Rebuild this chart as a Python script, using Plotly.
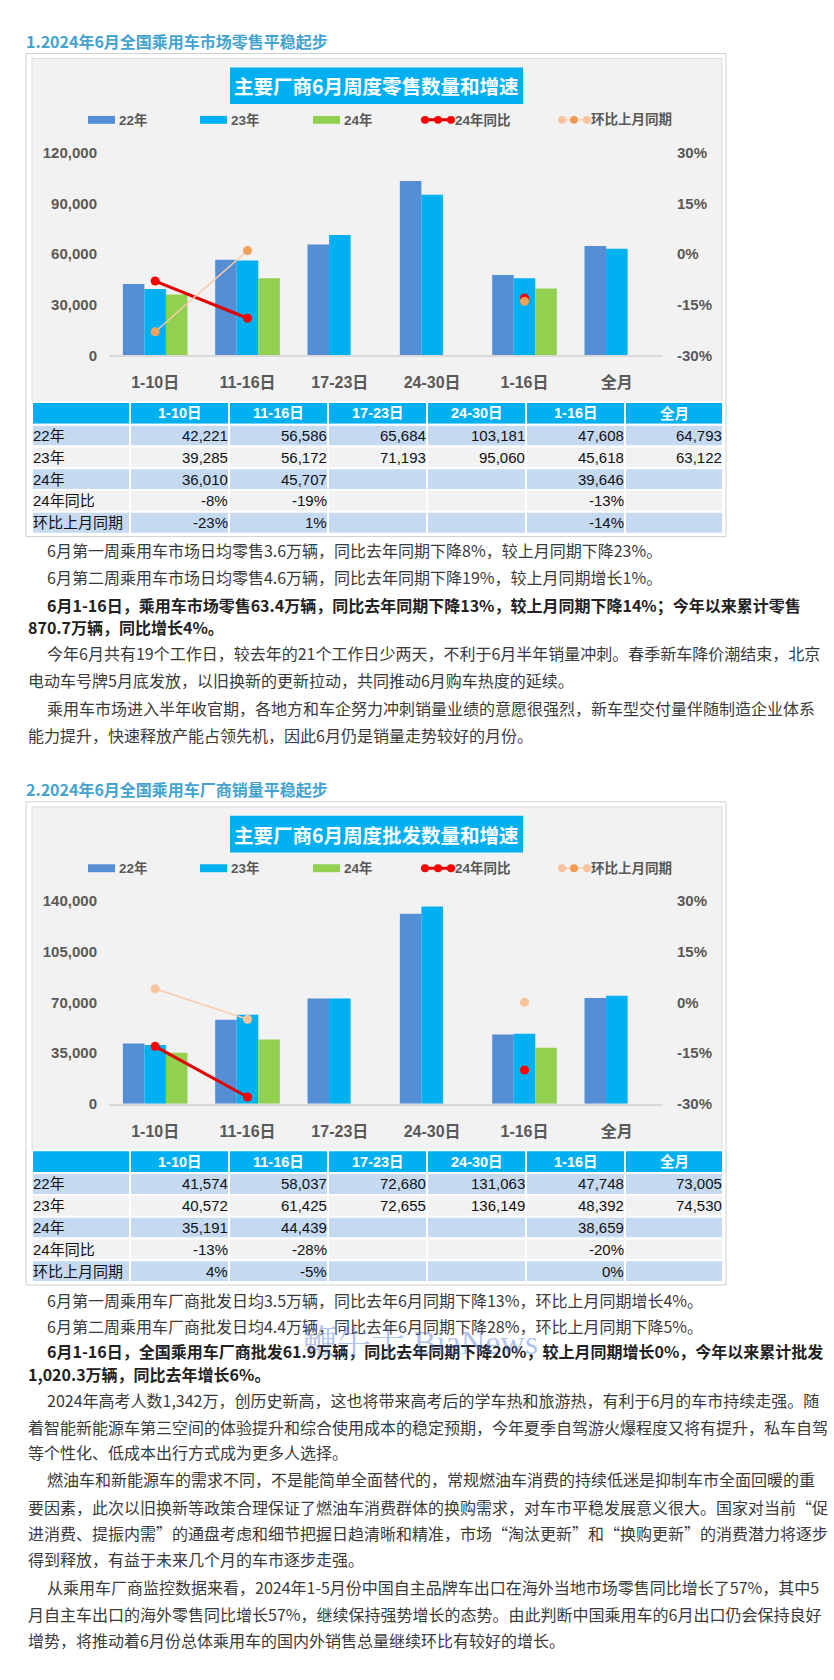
import plotly.graph_objects as go

W, H = 834, 1680

# ---------------- data ----------------
categories = ["1-10日", "11-16日", "17-23日", "24-30日", "1-16日", "全月"]
series_names = ["22年", "23年", "24年"]
rate_names = ["24年同比", "环比上月同期"]
row_labels = ["22年", "23年", "24年", "24年同比", "环比上月同期"]

retail_22 = [42221, 56586, 65684, 103181, 47608, 64793]
retail_23 = [39285, 56172, 71193, 95060, 45618, 63122]
retail_24 = [36010, 45707, None, None, 39646, None]
retail_yoy = [-0.08, -0.19, None, None, -0.13, None]
retail_mom = [-0.23, 0.01, None, None, -0.14, None]

whole_22 = [41574, 58037, 72680, 131063, 47748, 73005]
whole_23 = [40572, 61425, 72655, 136149, 48392, 74530]
whole_24 = [35191, 44439, None, None, 38659, None]
whole_yoy = [-0.13, -0.28, None, None, -0.20, None]
whole_mom = [0.04, -0.05, None, None, 0.00, None]

retail_left_ticks = [0, 30000, 60000, 90000, 120000]
whole_left_ticks = [0, 35000, 70000, 105000, 140000]
right_ticks = [-0.30, -0.15, 0.0, 0.15, 0.30]

heading1 = "1.2024年6月全国乘用车市场零售平稳起步"
heading2 = "2.2024年6月全国乘用车厂商销量平稳起步"
title1 = "主要厂商6月周度零售数量和增速"
title2 = "主要厂商6月周度批发数量和增速"
watermark = "鞭牛士 BiaNews"

text1 = [
    ("6月第一周乘用车市场日均零售3.6万辆，同比去年同期下降8%，较上月同期下降23%。", True, False),
    ("6月第二周乘用车市场日均零售4.6万辆，同比去年同期下降19%，较上月同期增长1%。", True, False),
    ("6月1-16日，乘用车市场零售63.4万辆，同比去年同期下降13%，较上月同期下降14%；今年以来累计零售", True, True),
    ("870.7万辆，同比增长4%。", False, True),
    ("今年6月共有19个工作日，较去年的21个工作日少两天，不利于6月半年销量冲刺。春季新车降价潮结束，北京", True, False),
    ("电动车号牌5月底发放，以旧换新的更新拉动，共同推动6月购车热度的延续。", False, False),
    ("乘用车市场进入半年收官期，各地方和车企努力冲刺销量业绩的意愿很强烈，新车型交付量伴随制造企业体系", True, False),
    ("能力提升，快速释放产能占领先机，因此6月仍是销量走势较好的月份。", False, False),
]
text1_y = [547, 574, 602, 624, 651, 678, 706, 733]

text2 = [
    ("6月第一周乘用车厂商批发日均3.5万辆，同比去年6月同期下降13%，环比上月同期增长4%。", True, False),
    ("6月第二周乘用车厂商批发日均4.4万辆，同比去年6月同期下降28%，环比上月同期下降5%。", True, False),
    ("6月1-16日，全国乘用车厂商批发61.9万辆，同比去年同期下降20%，较上月同期增长0%，今年以来累计批发", True, True),
    ("1,020.3万辆，同比去年增长6%。", False, True),
    ("2024年高考人数1,342万，创历史新高，这也将带来高考后的学车热和旅游热，有利于6月的车市持续走强。随", True, False),
    ("着智能新能源车第三空间的体验提升和综合使用成本的稳定预期，今年夏季自驾游火爆程度又将有提升，私车自驾", False, False),
    ("等个性化、低成本出行方式成为更多人选择。", False, False),
    ("燃油车和新能源车的需求不同，不是能简单全面替代的，常规燃油车消费的持续低迷是抑制车市全面回暖的重", True, False),
    ("要因素，此次以旧换新等政策合理保证了燃油车消费群体的换购需求，对车市平稳发展意义很大。国家对当前“促", False, False),
    ("进消费、提振内需”的通盘考虑和细节把握日趋清晰和精准，市场“淘汰更新”和“换购更新”的消费潜力将逐步", False, False),
    ("得到释放，有益于未来几个月的车市逐步走强。", False, False),
    ("从乘用车厂商监控数据来看，2024年1-5月份中国自主品牌车出口在海外当地市场零售同比增长了57%，其中5", True, False),
    ("月自主车出口的海外零售同比增长57%，继续保持强势增长的态势。由此判断中国乘用车的6月出口仍会保持良好", False, False),
    ("增势，将推动着6月份总体乘用车的国内外销售总量继续环比有较好的增长。", False, False),
]
text2_y = [1304, 1330, 1356, 1379, 1405, 1432, 1458, 1485, 1513, 1540, 1566, 1594, 1621, 1648]

# ---------------- styles ----------------
C22, C23, C24 = "#558ED5", "#00B0F0", "#92D050"
RED_LINE, RED_MK = "#E00000", "#FF0000"
ORG_LINE = "#F8CBAD"
CJK = "Noto Sans CJK SC"
LAT = "Liberation Sans, Arial, Noto Sans CJK SC"
AXIS_GREY = "#595959"
COL_EDGES = [32, 130, 229, 328, 427, 526, 625, 723]
ROW_EDGES = [397, 420, 442, 464, 486, 508, 530]
ROW_FILL = ["#C5D9F1", "#F2F2F2", "#C5D9F1", "#F2F2F2", "#C5D9F1"]


def fx(x):
    return x / W


def fy(y):
    return 1 - y / H


def fmt_num(v):
    return "" if v is None else f"{v:,}"


def fmt_pct(v):
    return "" if v is None else f"{round(v * 100):d}%"


fig = go.Figure()
shapes = []
annotations = []


def rect(x0, y0, x1, y1, fill, line_color=None, line_width=0, layer="below"):
    shapes.append(dict(type="rect", xref="paper", yref="paper", x0=fx(x0), x1=fx(x1),
                       y0=fy(y1), y1=fy(y0), fillcolor=fill, layer=layer,
                       line=dict(color=line_color or fill, width=line_width)))


def label(text, x, y, size, color, anchor="left", bold=False, family=CJK):
    annotations.append(dict(text=text, x=fx(x), y=fy(y), xref="paper", yref="paper",
                            showarrow=False, xanchor=anchor, yanchor="middle",
                            font=dict(family=family, size=size, color=color,
                                      weight="bold" if bold else "normal")))


def add_chart(off, n, heading, title, v22, v23, v24, yoy, mom, mom_marker):
    xa = "x" if n == 1 else "x2"
    yl = "y" if n == 1 else "y3"
    yr = "y2" if n == 1 else "y4"

    # frames
    rect(26, off + 45, 726, off + 533, "white", "#D0D0D0", 1)
    rect(32, off + 50, 722, off + 529, "#F2F2F2", "#DCDCDC", 1)
    # title box
    rect(230, off + 59, 523, off + 96, "#00B0F0")
    label(title, 376.5, off + 77.5, 19.5, "white", "center", True)
    # heading
    label(heading, 24, off + 32, 16, "#44A3CF", "left", True)

    # legend key
    ly = off + 112
    for (sx, col, lab) in [(88, C22, series_names[0]), (200, C23, series_names[1]), (313, C24, series_names[2])]:
        rect(sx, ly - 4, sx + 27, ly + 4, col, layer="above")
        label(lab, sx + 29, ly, 13.5, AXIS_GREY, "left", True, LAT)
    shapes.append(dict(type="line", xref="paper", yref="paper", x0=fx(421), x1=fx(455),
                       y0=fy(ly), y1=fy(ly), line=dict(color=RED_LINE, width=3)))
    for cx in (425, 438, 451):
        shapes.append(dict(type="circle", xref="paper", yref="paper", x0=fx(cx - 4), x1=fx(cx + 4),
                           y0=fy(ly + 4), y1=fy(ly - 4), line=dict(width=0), fillcolor=RED_MK))
    label(rate_names[0], 453, ly, 13.5, AXIS_GREY, "left", True, LAT)
    shapes.append(dict(type="line", xref="paper", yref="paper", x0=fx(558), x1=fx(590),
                       y0=fy(ly), y1=fy(ly), line=dict(color=ORG_LINE, width=1.5)))
    for cx, colr in ((562, "#F8C4A0"), (574, "#F39A50"), (587, "#F8C4A0")):
        shapes.append(dict(type="circle", xref="paper", yref="paper", x0=fx(cx - 4), x1=fx(cx + 4),
                           y0=fy(ly + 4), y1=fy(ly - 4), line=dict(width=0), fillcolor=colr))
    label(rate_names[1], 589, ly, 13.5, AXIS_GREY, "left", True, LAT)

    # bars
    for vals, col, name in ((v22, C22, series_names[0]), (v23, C23, series_names[1]), (v24, C24, series_names[2])):
        fig.add_trace(go.Bar(x=categories, y=vals, name=name, marker=dict(color=col, line=dict(width=0)),
                             xaxis=xa, yaxis=yl, showlegend=False))
    # rate lines
    fig.add_trace(go.Scatter(x=categories, y=yoy, name=rate_names[0], mode="lines+markers",
                             line=dict(color=RED_LINE, width=3), marker=dict(color=RED_MK, size=9),
                             connectgaps=False, xaxis=xa, yaxis=yr, showlegend=False))
    fig.add_trace(go.Scatter(x=categories, y=mom, name=rate_names[1], mode="lines+markers",
                             line=dict(color=ORG_LINE, width=1.5), marker=dict(color=mom_marker, size=9),
                             connectgaps=False, xaxis=xa, yaxis=yr, showlegend=False))

    # data table under the chart
    rows = [[fmt_num(v) for v in v22], [fmt_num(v) for v in v23], [fmt_num(v) for v in v24],
            [fmt_pct(v) for v in yoy], [fmt_pct(v) for v in mom]]
    hy0, hy1 = off + ROW_EDGES[0], off + ROW_EDGES[1]
    for c in range(7):
        x0, x1 = COL_EDGES[c], COL_EDGES[c + 1]
        rect(x0, hy0, x1, hy1, "#00B0F0", "white", 2, layer="above")
        if c > 0:
            label(categories[c - 1], (x0 + x1) / 2, (hy0 + hy1) / 2, 14.5, "white", "center", True, LAT)
    for r in range(5):
        y0, y1 = off + ROW_EDGES[r + 1], off + ROW_EDGES[r + 2]
        for c in range(7):
            x0, x1 = COL_EDGES[c], COL_EDGES[c + 1]
            rect(x0, y0, x1, y1, ROW_FILL[r], "white", 2, layer="above")
        label(row_labels[r], COL_EDGES[0] - 1, (y0 + y1) / 2, 15, "#111111", "left", False, LAT)
        for c in range(6):
            if rows[r][c]:
                label(rows[r][c], COL_EDGES[c + 2] + 1, (y0 + y1) / 2, 15, "#111111", "right", False, LAT)


add_chart(0, 1, heading1, title1, retail_22, retail_23, retail_24, retail_yoy, retail_mom, "#F4A15A")
add_chart(756, 2, heading2, title2, whole_22, whole_23, whole_24, whole_yoy, whole_mom, "#F8C49C")

# body text
for lines, ys in ((text1, text1_y), (text2, text2_y)):
    for (t, indent, bold), y in zip(lines, ys):
        label(t, 45 if indent else 26, y, 16, "#222222" if bold else "#3A3A3A", "left", bold)

# faint watermark over the second text block (as in the source page)
label(watermark, 420, 1347, 34, "rgba(70,110,210,0.42)", "center", False,
      "Liberation Serif, Noto Serif CJK SC, Noto Sans CJK SC")

tick_font = dict(family=LAT, size=15, color=AXIS_GREY, weight="bold")
cat_font = dict(family=LAT, size=16, color=AXIS_GREY, weight="bold")


def xaxis_cfg(anchor):
    return dict(domain=[fx(109), fx(663)], anchor=anchor, showline=True, linecolor="#D9D9D9",
                linewidth=1.5, ticks="", showgrid=False, zeroline=False, tickfont=cat_font,
                ticklabelstandoff=12, fixedrange=True)


def yleft_cfg(off, anchor, lticks):
    return dict(domain=[fy(off + 350), fy(off + 145)], anchor=anchor, range=[0, lticks[-1]],
                tickvals=lticks, ticktext=[f"{v:,}" for v in lticks], showgrid=False,
                zeroline=False, showline=False, tickfont=tick_font, ticklabelstandoff=11,
                fixedrange=True)


def yright_cfg(overlay, anchor):
    return dict(overlaying=overlay, side="right", anchor=anchor, range=[right_ticks[0], right_ticks[-1]],
                tickvals=right_ticks, ticktext=[fmt_pct(v) for v in right_ticks], showgrid=False,
                zeroline=False, showline=False, tickfont=tick_font, ticklabelstandoff=13,
                fixedrange=True)


fig.update_layout(
    width=W, height=H, margin=dict(l=0, r=0, t=0, b=0),
    paper_bgcolor="white", plot_bgcolor="rgba(0,0,0,0)",
    barmode="group", bargap=0.30, bargroupgap=0, showlegend=False,
    xaxis=xaxis_cfg("y"),
    yaxis=yleft_cfg(0, "x", retail_left_ticks),
    yaxis2=yright_cfg("y", "x"),
    xaxis2=xaxis_cfg("y3"),
    yaxis3=yleft_cfg(756, "x2", whole_left_ticks),
    yaxis4=yright_cfg("y3", "x2"),
    shapes=shapes, annotations=annotations,
)

pin_page = (
    "document.documentElement.style.margin='0';document.body.style.margin='0';"
    "document.body.style.overflow='hidden';document.documentElement.style.overflow='hidden';"
    "var d=document.getElementById('{plot_id}');d.style.position='fixed';d.style.left='0px';d.style.top='0px';"
)
fig.write_html("out.html", config={"displayModeBar": False}, post_script=pin_page)
